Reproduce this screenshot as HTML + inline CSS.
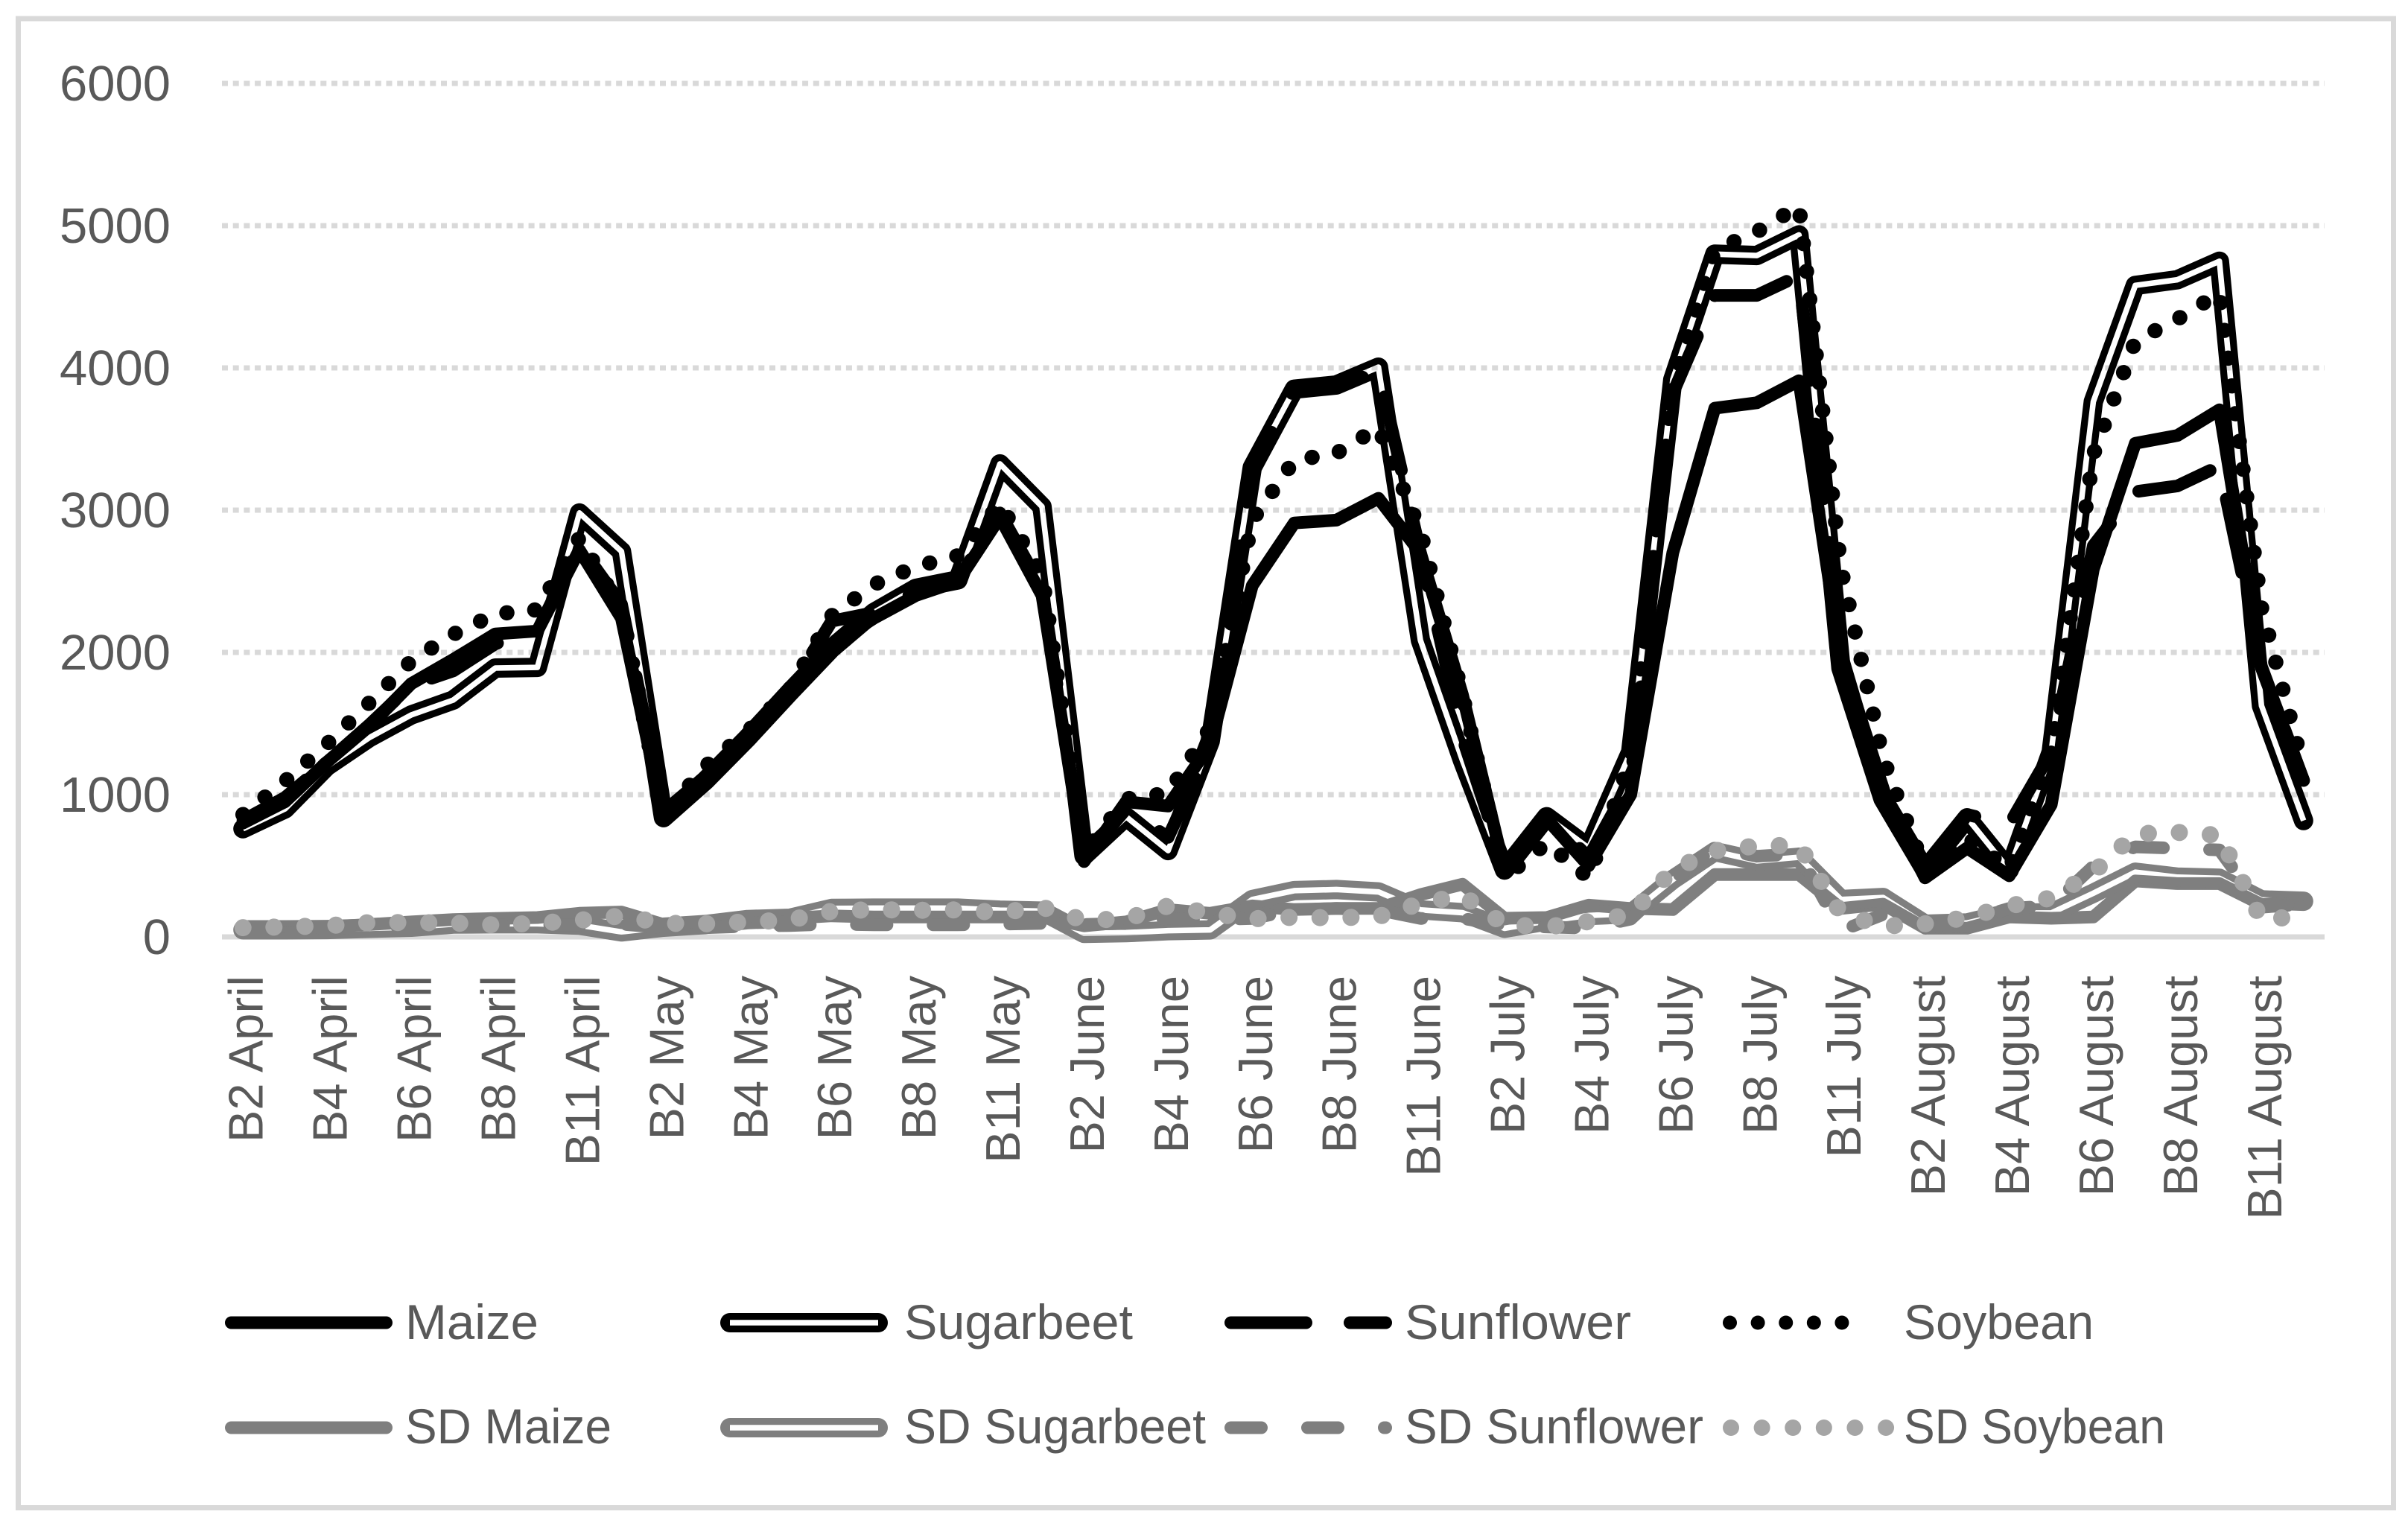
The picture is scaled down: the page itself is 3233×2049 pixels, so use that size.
<!DOCTYPE html>
<html lang="en">
<head>
<meta charset="utf-8">
<title>Band reflectance by crop and month</title>
<style>
html,body{margin:0;padding:0;background:#fff;}
svg{display:block;}
text{font-family:"Liberation Sans",sans-serif;fill:#595959;}
</style>
</head>
<body>
<svg id="chart" xmlns="http://www.w3.org/2000/svg" width="3233" height="2049" viewBox="0 0 3233 2049">
  <rect x="24.5" y="25" width="3189" height="1999.5" fill="#fff" stroke="#d9d9d9" stroke-width="7"/>
  <g id="grid"></g>
  <g id="yaxis"></g>
  <g id="xaxis"></g>
  <g id="masks"></g>
  <g id="series"></g>
  <g id="legend"></g>
</svg>
<script>
const months = ["April","May","June","July","August"];
const bands = ["B2","B3","B4","B5","B6","B7","B8","B8A","B11","B12"];
const yTicks = [0,1000,2000,3000,4000,5000,6000];

const maize = [800,950,1230,1480,1780,1950,2130,2150,2720,2240,
  840,1100,1400,1720,2050,2240,2400,2500,2950,2400,
  530,950,920,1350,2470,2910,2930,3083,2700,1700,
  470,830,500,1000,2700,3717,3755,3910,1950,1000,
  415,625,430,930,2585,3470,3525,3705,1890,1100];
const sugarbeet = [760,900,1200,1400,1560,1665,1890,1895,2980,2710,
  838,1100,1400,1720,2030,2280,2450,2510,3325,3025,
  570,845,607,1375,3300,3850,3880,4005,2085,1240,
  470,845,625,1300,3918,4800,4790,4935,1890,970,
  470,837,470,1300,3763,4580,4620,4750,1625,818];
const sunflower = [820,980,1230,1490,1770,1870,2060,2150,2750,2340,
  880,1130,1420,1740,2220,2280,2430,2510,2980,2450,
  550,900,700,1340,3300,3850,3860,3980,2700,1400,
  500,850,560,1100,3820,4510,4510,4650,2000,1000,
  430,860,790,1300,2750,3130,3170,3310,1900,1100];
const soybean = [860,1094,1356,1644,1940,2127,2270,2300,2806,2300,
  850,1200,1445,1740,2258,2477,2603,2680,3045,2546,
  587,970,1010,1470,2930,3350,3400,3580,2850,1700,
  415,660,415,1250,3880,4830,4957,5138,2590,1256,
  470,700,470,1300,3390,4190,4343,4525,2316,1183];
const sdMaize = [70,70,70,87,105,122,130,136,166,175,
  87,91,110,131,148,140,140,140,140,140,
  78,105,192,166,218,192,200,200,297,370,
  131,136,223,200,192,438,438,438,200,230,
  61,61,140,131,140,393,375,375,227,253];
const sdSugarbeet = [50,50,52,60,68,90,92,92,82,35,
  68,87,122,131,200,202,202,202,188,181,
  25,30,44,49,263,325,333,316,190,170,
  60,112,150,164,403,600,534,560,263,277,
  89,98,168,168,307,455,420,412,260,251];
const sdSunflower = [60,60,60,70,80,80,85,85,85,90,
  65,65,75,80,90,85,85,85,90,95,
  87,96,130,120,130,190,200,190,130,130,
  80,70,61,125,400,628,567,585,44,157,
  61,113,200,218,497,633,623,611,209,230];
const sdSoybean = [65,70,78,100,101,98,84,96,117,148,
  96,92,105,119,180,192,187,190,171,209,
  117,127,218,166,127,138,134,143,236,291,
  87,70,108,157,471,605,640,644,166,75,
  92,136,218,274,454,724,735,714,120,148];

const NS = "http://www.w3.org/2000/svg";
const plotLeft = 298, plotRight = 3121, yZero = 1258, yPerUnit = 0.191;
const categories = [];
months.forEach(function (m) { bands.forEach(function (b) { categories.push(b + " " + m); }); });
const step = (plotRight - plotLeft) / categories.length;
function xScale(i) { return plotLeft + step * (i + 0.5); }
function yScale(v) { return yZero - v * yPerUnit; }
function make(tag, attrs, parent) {
  const e = document.createElementNS(NS, tag);
  Object.keys(attrs).forEach(function (k) { e.setAttribute(k, attrs[k]); });
  parent.appendChild(e);
  return e;
}
const grid = document.getElementById("grid");
const yaxis = document.getElementById("yaxis");
const xaxis = document.getElementById("xaxis");
const masks = document.getElementById("masks");
const seriesG = document.getElementById("series");
const legend = document.getElementById("legend");

yTicks.forEach(function (t) {
  const y = yScale(t);
  const line = make("line", {x1: plotLeft, x2: plotRight, y1: y, y2: y, stroke: "#d9d9d9", "stroke-width": 7}, grid);
  if (t !== 0) line.setAttribute("stroke-dasharray", "8 6.7");
  
  
  const label = make("text", {x: 229, y: y + 23, "text-anchor": "end", "font-size": 67}, yaxis);
  label.textContent = String(t);
  
  
});

categories.forEach(function (c, i) {
  if (i % 2 !== 0) return;
  const x = xScale(i) + 26.5;
  const label = make("text", {x: x, y: 1310, "text-anchor": "end", "font-size": 65, transform: "rotate(-90 " + x + " 1310)"}, xaxis);
  label.textContent = (i % 10 === 8) ? "B11 " + months[Math.floor(i / 10)] : c;
  
  
});

const seriesDefs = [
  {name: "Maize", values: maize, color: "#000000", kind: "solid", labelWidth: 179},
  {name: "Sugarbeet", values: sugarbeet, color: "#000000", kind: "compound", labelWidth: 307},
  {name: "Sunflower", values: sunflower, color: "#000000", kind: "longdash", labelWidth: 304},
  {name: "Soybean", values: soybean, color: "#000000", kind: "dot", labelWidth: 255},
  {name: "SD Maize", values: sdMaize, color: "#7f7f7f", kind: "solid", labelWidth: 277},
  {name: "SD Sugarbeet", values: sdSugarbeet, color: "#7f7f7f", kind: "compound", labelWidth: 405},
  {name: "SD Sunflower", values: sdSunflower, color: "#7f7f7f", kind: "dash", labelWidth: 401},
  {name: "SD Soybean", values: sdSoybean, color: "#a5a5a5", kind: "greydot", labelWidth: 351}
];
function styleAttrs(def) {
  const a = {fill: "none", stroke: def.color, "stroke-linecap": "round", "stroke-linejoin": "round"};
  if (def.kind === "solid") a["stroke-width"] = 17;
  if (def.kind === "compound") a["stroke-width"] = 26;
  if (def.kind === "longdash") { a["stroke-width"] = 17; a["stroke-dasharray"] = "101 59"; }
  if (def.kind === "dash") { a["stroke-width"] = 17; a["stroke-dasharray"] = "41 62"; }
  if (def.kind === "dot") { a["stroke-width"] = 20.5; a["stroke-dasharray"] = "0.01 37.6"; }
  if (def.kind === "greydot") { a["stroke-width"] = 23; a["stroke-dasharray"] = "0.01 41.6"; }
  return a;
}
function addMask(id, pts) {
  const m = make("mask", {id: id, maskUnits: "userSpaceOnUse", x: 0, y: 0, width: 3233, height: 2049}, masks);
  make("rect", {x: 0, y: 0, width: 3233, height: 2049, fill: "#fff"}, m);
  make("polyline", {points: pts, fill: "none", stroke: "#000", "stroke-width": 7.5, "stroke-linecap": "butt", "stroke-linejoin": "round"}, m);
}
function slug(s) { return s.toLowerCase().replace(/\s+/g, "-"); }

seriesDefs.forEach(function (def, si) {
  const pts = def.values.map(function (v, i) { return xScale(i).toFixed(1) + "," + yScale(v).toFixed(1); }).join(" ");
  const attrs = styleAttrs(def);
  attrs.points = pts;
  if (def.kind === "compound") { addMask("mask-s" + si, pts); attrs.mask = "url(#mask-s" + si + ")"; }
  const line = make("polyline", attrs, seriesG);
  
  

  const col = si % 4, row = Math.floor(si / 4);
  const swatchX = [302, 967, 1644, 2313][col];
  const swatchW = (def.kind === "dot") ? 206 : (def.kind === "greydot") ? 232 : 225;
  const textX = [544, 1214, 1886, 2556][col];
  const ly = [1776, 1917][row];
  const baseline = [1798, 1938][row];
  const cap = (def.kind === "dot") ? 9.5 : (def.kind === "greydot") ? 11 : (def.kind === "compound") ? 13 : 8.5;
  const lp = (swatchX + cap) + "," + ly + " " + (swatchX + swatchW - cap) + "," + ly;
  const la = styleAttrs(def);
  la.points = lp;
  if (def.kind === "dot") la["stroke-width"] = 19;
  if (def.kind === "greydot") la["stroke-width"] = 22;
  if (def.kind === "compound") { addMask("mask-l" + si, lp); la.mask = "url(#mask-l" + si + ")"; }
  const swatch = make("polyline", la, legend);
  
  
  const text = make("text", {x: textX, y: baseline, "font-size": 66, textLength: def.labelWidth, lengthAdjust: "spacingAndGlyphs"}, legend);
  text.textContent = def.name;
  
  
});
</script>
</body>
</html>
